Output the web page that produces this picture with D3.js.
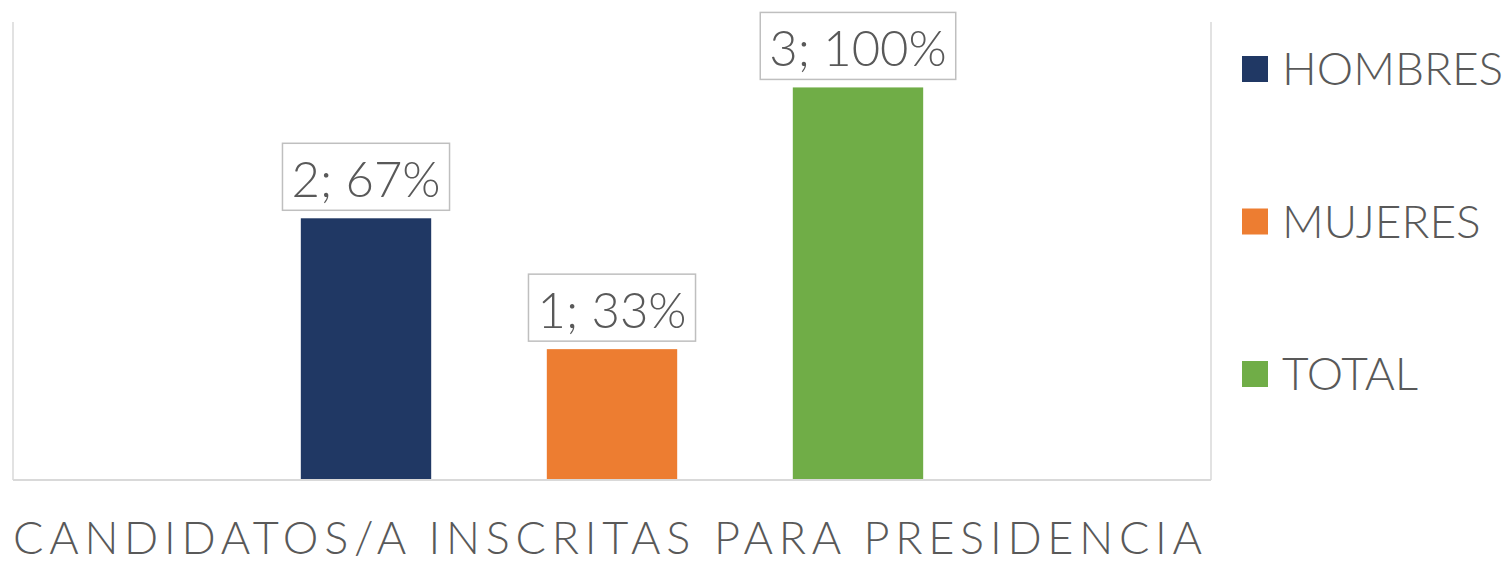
<!DOCTYPE html>
<html>
<head>
<meta charset="utf-8">
<script src="https://cdn.jsdelivr.net/npm/d3@7"></script>
<style>
  body { margin: 0; background: #fff; }
  text { font-family: Lato, "Open Sans", sans-serif; font-weight: 300; fill: #595959; }
</style>
</head>
<body>
<div id="chart"></div>
<script>
// Datos
const series = ["HOMBRES", "MUJERES", "TOTAL"];
const values = [2, 1, 3];
const percents = ["67%", "33%", "100%"];
const colors = ["#203864", "#ED7D31", "#70AD47"];
const title = "CANDIDATOS/A INSCRITAS PARA PRESIDENCIA";

const W = 1508, H = 564;
const plot = { left: 13, right: 1211, top: 22, bottom: 480 };

const svg = d3.select("#chart")
    .append("svg")
    .attr("width", W)
    .attr("height", H);

// Escalas
const x = d3.scaleBand()
    .domain(series)
    .range([plot.left, plot.right])
    .paddingInner(0.47)
    .paddingOuter(1.17);

const y = d3.scaleLinear()
    .domain([0, 3.5])
    .range([plot.bottom, plot.top]);

// Líneas de borde de categoría
svg.selectAll("line.grid")
    .data([plot.left, plot.right])
    .enter()
    .append("line")
    .attr("x1", d => d).attr("x2", d => d)
    .attr("y1", plot.top).attr("y2", plot.bottom)
    .attr("stroke", "#D9D9D9")
    .attr("stroke-width", 1.5);

// Barras
svg.selectAll("rect.bar")
    .data(series)
    .enter()
    .append("rect")
    .attr("x", d => x(d))
    .attr("y", (d, i) => y(values[i]))
    .attr("width", x.bandwidth())
    .attr("height", (d, i) => y(0) - y(values[i]))
    .attr("fill", (d, i) => colors[i]);

// Eje inferior
svg.append("line")
    .attr("x1", plot.left).attr("x2", plot.right)
    .attr("y1", y(0)).attr("y2", y(0))
    .attr("stroke", "#D9D9D9")
    .attr("stroke-width", 2);

// Etiquetas de datos
const labels = svg.selectAll("g.label")
    .data(series)
    .enter()
    .append("g");

labels.append("rect")
    .attr("fill", "#fff")
    .attr("stroke", "#BFBFBF")
    .attr("stroke-width", 1.5);

labels.append("text")
    .attr("x", d => x(d) + x.bandwidth() / 2)
    .attr("y", (d, i) => y(values[i]) - 21)
    .attr("text-anchor", "middle")
    .attr("font-size", 49)
    .text((d, i) => values[i] + "; " + percents[i]);

labels.each(function(d, i) {
    const g = d3.select(this);
    const w = g.select("text").node().getComputedTextLength();
    const cx = x(d) + x.bandwidth() / 2;
    g.select("rect")
        .attr("x", cx - w / 2 - 9)
        .attr("width", w + 18)
        .attr("y", y(values[i]) - 75)
        .attr("height", 67);
});

// Leyenda
const legend = svg.selectAll("g.legend")
    .data(series)
    .enter()
    .append("g")
    .attr("transform", (d, i) => `translate(1242, ${69 + i * 152.5})`);

legend.append("rect")
    .attr("y", -13)
    .attr("width", 26)
    .attr("height", 26)
    .attr("fill", (d, i) => colors[i]);

legend.append("text")
    .attr("x", 40)
    .attr("y", 16)
    .attr("font-size", 46)
    .text(d => d);

// Título del eje
svg.append("text")
    .attr("x", 13)
    .attr("y", 554)
    .attr("font-size", 45)
    .attr("textLength", 1189)
    .attr("lengthAdjust", "spacing")
    .text(title);
</script>
</body>
</html>
